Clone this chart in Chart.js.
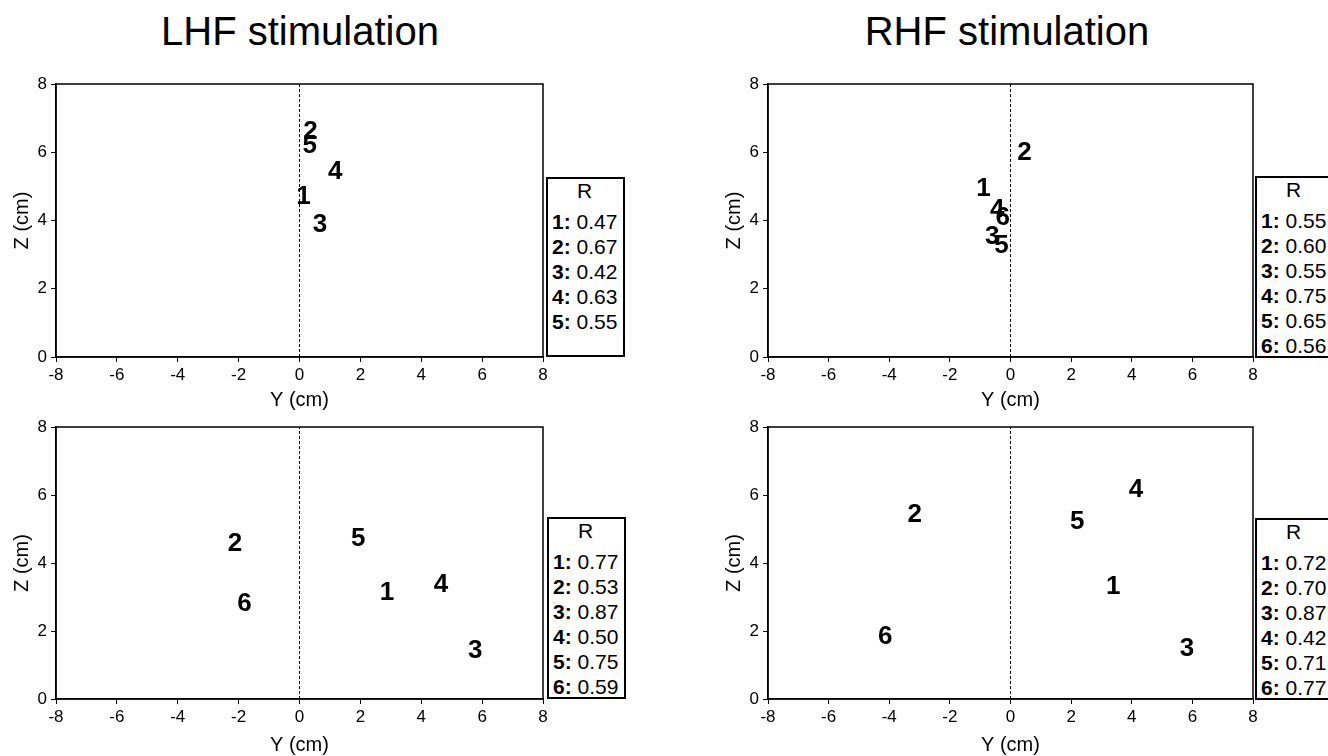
<!DOCTYPE html>
<html><head><meta charset="utf-8">
<script src="https://cdn.jsdelivr.net/npm/chart.js@4/dist/chart.umd.min.js"></script>
<style>
html,body{margin:0;padding:0;background:#fff;width:1328px;height:756px;overflow:hidden;font-family:"Liberation Sans",Arial,sans-serif;color:#000;}
.ptitle{position:absolute;top:8px;width:600px;text-align:center;font-size:40px;line-height:46px;}
canvas{position:absolute;}
.rbox{position:absolute;border:2px solid #000;box-sizing:border-box;background:#fff;overflow:hidden;font-size:21px;}
.rbox .inner{display:inline-block;margin-left:4px;}
.rbox .rh{text-align:center;line-height:24px;margin-bottom:6px;}
.rbox .ent{line-height:25px;white-space:nowrap;}
</style>
</head><body>
<div class="ptitle" style="left:0px">LHF stimulation</div>
<div class="ptitle" style="left:707px">RHF stimulation</div>
<canvas id="c1" width="563" height="351" style="left:0px;top:64px"></canvas>
<canvas id="c2" width="561" height="351" style="left:712px;top:64px"></canvas>
<canvas id="c3" width="563" height="350" style="left:0px;top:407px"></canvas>
<canvas id="c4" width="561" height="350" style="left:712px;top:407px"></canvas>
<div id="legends"></div>
<script>
// Axis ticks
const yTicks = [-8, -6, -4, -2, 0, 2, 4, 6, 8];
const zTicks = [0, 2, 4, 6, 8];

// LHF stimulation, top panel
const lhfTopLabels = ['1', '2', '3', '4', '5'];
const lhfTopY = [0.13, 0.36, 0.67, 1.17, 0.34];
const lhfTopZ = [4.73, 6.62, 3.91, 5.45, 6.23];
const lhfTopR = [0.47, 0.67, 0.42, 0.63, 0.55];

// RHF stimulation, top panel
const rhfTopLabels = ['1', '2', '3', '4', '5', '6'];
const rhfTopY = [-0.89, 0.46, -0.60, -0.44, -0.30, -0.26];
const rhfTopZ = [4.97, 6.01, 3.55, 4.35, 3.30, 4.11];
const rhfTopR = [0.55, 0.60, 0.55, 0.75, 0.65, 0.56];

// LHF stimulation, bottom panel
const lhfBotLabels = ['1', '2', '3', '4', '5', '6'];
const lhfBotY = [2.87, -2.12, 5.77, 4.65, 1.93, -1.81];
const lhfBotZ = [3.16, 4.58, 1.45, 3.40, 4.75, 2.84];
const lhfBotR = [0.77, 0.53, 0.87, 0.50, 0.75, 0.59];

// RHF stimulation, bottom panel
const rhfBotLabels = ['1', '2', '3', '4', '5', '6'];
const rhfBotY = [3.39, -3.16, 5.82, 4.14, 2.20, -4.13];
const rhfBotZ = [3.33, 5.44, 1.50, 6.19, 5.25, 1.86];
const rhfBotR = [0.72, 0.70, 0.87, 0.42, 0.71, 0.77];

const FONT = '"Liberation Sans", Arial, sans-serif';

const boxPlugin = {
  id: 'boxAndLabels',
  afterDraw(chart) {
    const {ctx, chartArea: a} = chart;
    ctx.save();
    ctx.strokeStyle = '#000';
    ctx.lineWidth = 1.5;
    ctx.strokeRect(a.left, a.top, a.right - a.left, a.bottom - a.top);
    const ds = chart.data.datasets[1];
    const meta = chart.getDatasetMeta(1);
    ctx.font = 'bold 26px ' + FONT;
    ctx.fillStyle = '#000';
    ctx.textAlign = 'center';
    ctx.textBaseline = 'middle';
    meta.data.forEach((pt, i) => ctx.fillText(ds.numLabels[i], pt.x, pt.y + 1));
    ctx.restore();
  }
};

function makeChart(id, ys, zs, labels, titlePad) {
  const pts = ys.map((y, i) => ({x: y, y: zs[i]}));
  return new Chart(document.getElementById(id), {
    type: 'scatter',
    data: {
      datasets: [
        {data: [{x: 0, y: 0}, {x: 0, y: 8}], showLine: true, borderColor: '#000', borderWidth: 1,
         borderDash: [3, 2], pointRadius: 0, fill: false},
        {data: pts, pointRadius: 0, showLine: false, numLabels: labels}
      ]
    },
    options: {
      responsive: false, animation: false,
      layout: {padding: {top: 20, right: 20, left: 0, bottom: 0}},
      plugins: {legend: {display: false}, tooltip: {enabled: false}},
      scales: {
        x: {
          type: 'linear', min: yTicks[0], max: yTicks[yTicks.length - 1],
          afterBuildTicks: s => { s.ticks = yTicks.map(v => ({value: v})); },
          afterFit: s => { s.height = 58; },
          grid: {drawOnChartArea: false, drawTicks: true, tickLength: 5, color: '#000', lineWidth: 1},
          border: {display: true, color: '#000', width: 1.5},
          ticks: {color: '#000', font: {family: FONT, size: 17}, padding: 3, maxRotation: 0},
          title: {display: true, text: 'Y (cm)', color: '#000', font: {family: FONT, size: 20}, padding: {top: 0, bottom: titlePad}}
        },
        y: {
          type: 'linear', min: zTicks[0], max: zTicks[zTicks.length - 1],
          afterBuildTicks: s => { s.ticks = zTicks.map(v => ({value: v})); },
          afterFit: s => { s.width = 56; },
          grid: {drawOnChartArea: false, drawTicks: true, tickLength: 5, color: '#000', lineWidth: 1},
          border: {display: true, color: '#000', width: 1.5},
          ticks: {color: '#000', font: {family: FONT, size: 17}, padding: 4},
          title: {display: true, text: 'Z (cm)', color: '#000', font: {family: FONT, size: 20}, padding: {top: 10, bottom: 0}}
        }
      }
    },
    plugins: [boxPlugin]
  });
}

makeChart('c1', lhfTopY, lhfTopZ, lhfTopLabels, 3);
makeChart('c2', rhfTopY, rhfTopZ, rhfTopLabels, 3);
makeChart('c3', lhfBotY, lhfBotZ, lhfBotLabels, 0);
makeChart('c4', rhfBotY, rhfBotZ, rhfBotLabels, 0);

function makeLegend(left, top, height, labels, rs) {
  const box = document.createElement('div');
  box.className = 'rbox';
  box.style.left = left + 'px';
  box.style.top = top + 'px';
  box.style.width = '79px';
  box.style.height = height + 'px';
  let html = '<div class="inner"><div class="rh">R</div>';
  labels.forEach((l, i) => { html += '<div class="ent"><b>' + l + ':</b> ' + rs[i].toFixed(2) + '</div>'; });
  html += '</div>';
  box.innerHTML = html;
  document.getElementById('legends').appendChild(box);
}
makeLegend(546, 177, 180, lhfTopLabels, lhfTopR);
makeLegend(1255, 176, 182, rhfTopLabels, rhfTopR);
makeLegend(547, 517, 182, lhfBotLabels, lhfBotR);
makeLegend(1255, 518, 182, rhfBotLabels, rhfBotR);
</script>
</body></html>
